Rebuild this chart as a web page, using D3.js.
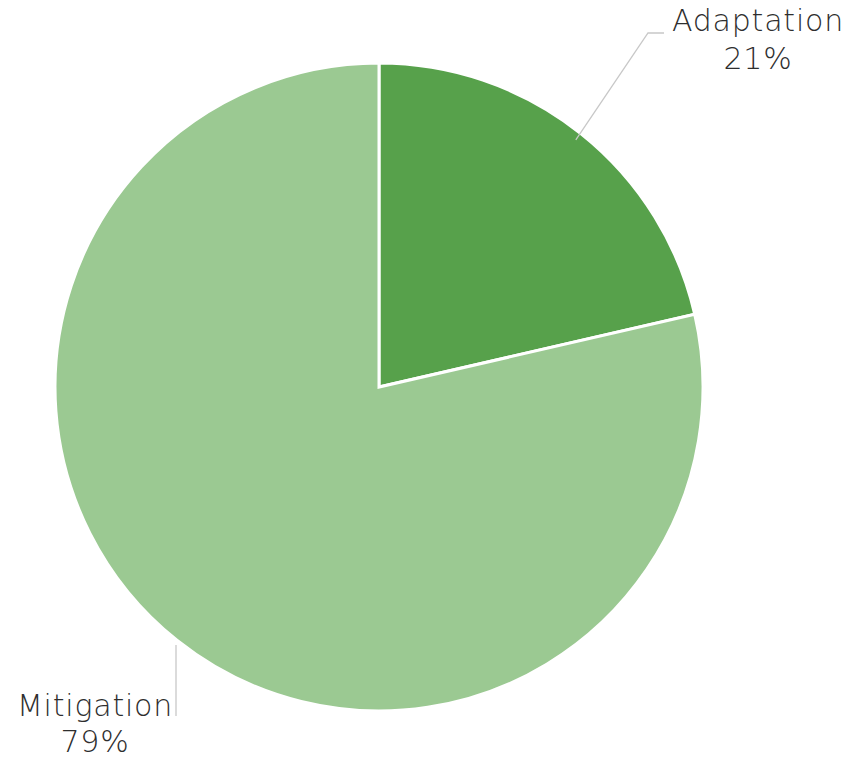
<!DOCTYPE html>
<html>
<head>
<meta charset="utf-8">
<script src="https://cdn.jsdelivr.net/npm/d3@7"></script>
<style>
  body { margin: 0; background: #fff; }
  text { font-family: "DejaVu Sans", sans-serif; font-weight: 200; fill: #2e2e2e; letter-spacing: 0.8px; }
</style>
</head>
<body>
<div id="my_dataviz"></div>
<script>
// set the dimensions of the graph
let width = 853,
    height = 758,
    radius = 324

// data
var categories = ["Adaptation", "Mitigation"]
var shares = [21.4, 78.6]
var colors = ["#57a14b", "#9bc992"]

var svg = d3.select("#my_dataviz")
  .append("svg")
    .attr("width", width)
    .attr("height", height)

var g = svg.append("g")
    .attr("transform", "translate(379,387)")

var color = d3.scaleOrdinal()
  .domain(categories)
  .range(colors)

// keep the order as given
var pie = d3.pie()
  .value(function(d) { return d.value })
  .sort(null)

var data_ready = pie(categories.map(function(c, i) { return {key: c, value: shares[i]} }))

var arc = d3.arc().innerRadius(0).outerRadius(radius)

g.selectAll("path")
  .data(data_ready)
  .enter()
  .append("path")
    .attr("d", arc)
    .attr("fill", function(d) { return color(d.data.key) })
    .attr("stroke", "white")
    .style("stroke-width", "3px")

// leader lines and labels
var outer = d3.arc().innerRadius(radius - 8).outerRadius(radius - 8)

function leader(pts) {
  g.append("polyline")
    .attr("points", pts.map(function(p) { return p.join(",") }).join(" "))
    .attr("fill", "none")
    .attr("stroke", "#c8c8c8")
    .attr("stroke-width", 1.3)
}

// Adaptation
var a = data_ready[0]
leader([outer.centroid(a), [269, -354], [285, -354]])
var ta = g.append("text").attr("text-anchor", "middle").style("font-size", "30px")
ta.append("tspan").attr("x", 379).attr("y", -356).text(a.data.key)
ta.append("tspan").attr("x", 379).attr("y", -318).text(Math.round(a.data.value) + "%")

// Mitigation
var m = data_ready[1]
leader([[-203, 258], [-203, 329]])
var tm = g.append("text").attr("text-anchor", "middle").style("font-size", "30px")
tm.append("tspan").attr("x", -284).attr("y", 329).text(m.data.key)
tm.append("tspan").attr("x", -284).attr("y", 365).text(Math.round(m.data.value) + "%")
</script>
</body>
</html>
